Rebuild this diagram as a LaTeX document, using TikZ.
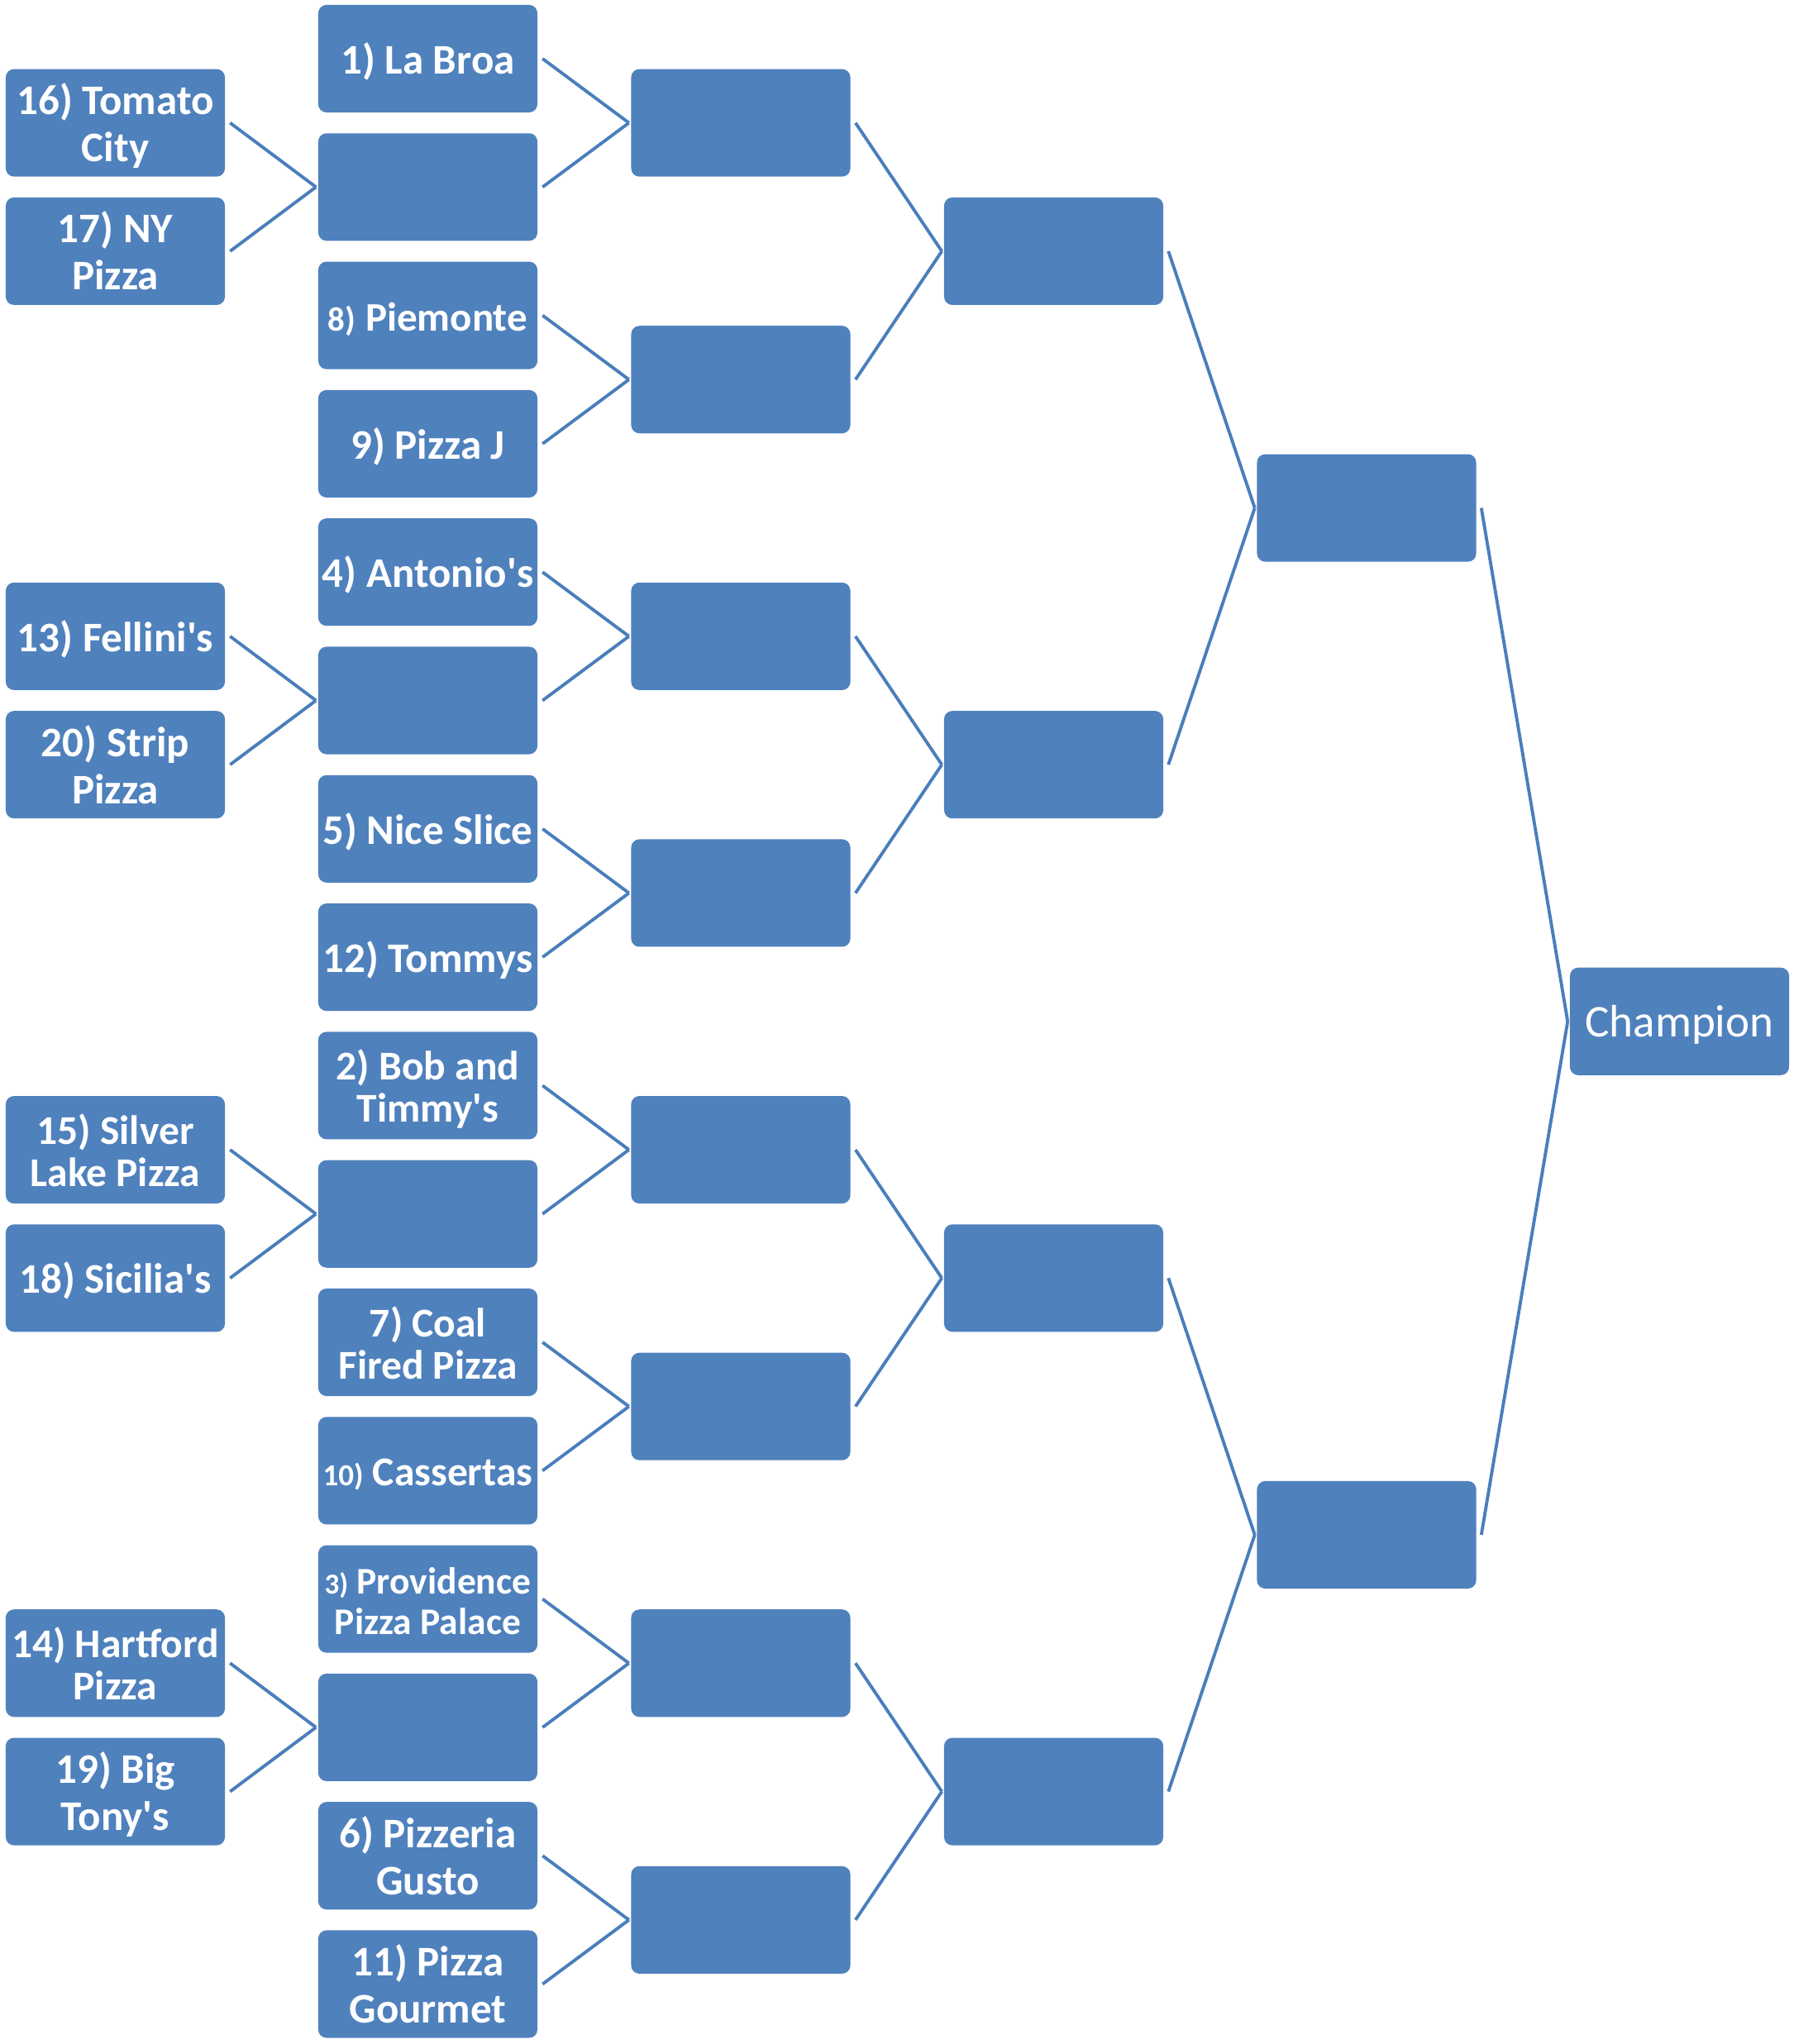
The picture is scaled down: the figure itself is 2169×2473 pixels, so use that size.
\documentclass[tikz,border=0pt]{standalone}
\usepackage{fontspec}
\setmainfont{Carlito}
\definecolor{boxblue}{HTML}{4F81BD}
\definecolor{lineblue}{HTML}{4A7EBB}
\newcommand{\fs}[2]{\fontsize{#1cm}{#2cm}\selectfont}
\newcommand{\hs}{\rule{0pt}{0.55cm}}
\newcommand{\ds}{\rule[-0.18cm]{0pt}{0.18cm}}
\newcommand{\q}{\textquotesingle}
\tikzset{
  team/.style={rectangle, rounded corners=0.1cm, fill=boxblue, minimum width=2.65cm,
    minimum height=1.3cm, inner sep=0pt, text=white, align=center,
    font=\bfseries\fs{0.51}{0.57}},
  compact/.style={font=\bfseries\fs{0.495}{0.51}},
  tight/.style={font=\bfseries\fs{0.455}{0.49}},
  champbox/.style={team, font=\mdseries\fs{0.55}{0.6}},
  link/.style={draw=lineblue, line width=1.1pt},
}
\begin{document}
\begin{tikzpicture}[x=0.01cm, y=-0.01cm]
\useasboundingbox (0,0) rectangle (2169,2473);
% column 0
\node[team] (z1) at (139.5,{71+155.3*0.5}) {\hs 16) Tomato\\City\ds};
\node[team] (z2) at (139.5,{71+155.3*1.5}) {\hs 17) NY\\Pizza\ds};
\node[team] (z3) at (139.5,{71+155.3*4.5}) {\hs 13) Fellini\q s\ds};
\node[team] (z4) at (139.5,{71+155.3*5.5}) {\hs 20) Strip\\Pizza\ds};
\node[team,compact] (z5) at (139.5,{71+155.3*8.5}) {\hs 15) Silver\\Lake Pizza\ds};
\node[team] (z6) at (139.5,{71+155.3*9.5}) {\hs 18) Sicilia\q s\ds};
\node[team,compact] (z7) at (139.5,{71+155.3*12.5}) {\hs 14) Hartford\\Pizza\ds};
\node[team] (z8) at (139.5,{71+155.3*13.5}) {\hs 19) Big\\Tony\q s\ds};
% column 1
\node[team] (a1) at (517.5,{71+155.3*0}) {\hs 1) La Broa\ds};
\node[team] (a2) at (517.5,{71+155.3*1}) {};
\node[team] (a3) at (517.5,{71+155.3*2}) {\hs{\fs{0.41}{0.5}8)} {\fs{0.49}{0.55}Piemonte}\ds};
\node[team] (a4) at (517.5,{71+155.3*3}) {\hs 9) Pizza J\ds};
\node[team] (a5) at (517.5,{71+155.3*4}) {\hs 4) Antonio\q s\ds};
\node[team] (a6) at (517.5,{71+155.3*5}) {};
\node[team] (a7) at (517.5,{71+155.3*6}) {\hs 5) Nice Slice\ds};
\node[team] (a8) at (517.5,{71+155.3*7}) {\hs 12) Tommys\ds};
\node[team,compact] (a9) at (517.5,{71+155.3*8}) {\hs 2) Bob and\\Timmy\q s\ds};
\node[team] (a10) at (517.5,{71+155.3*9}) {};
\node[team,compact] (a11) at (517.5,{71+155.3*10}) {\hs 7) Coal\\Fired Pizza\ds};
\node[team,compact] (a12) at (517.5,{71+155.3*11}) {\hs{\fs{0.37}{0.5}10)} Cassertas\ds};
\node[team,tight] (a13) at (517.5,{71+155.3*12}) {\hs{\fs{0.35}{0.49}3)} Providence\\Pizza Palace\ds};
\node[team] (a14) at (517.5,{71+155.3*13}) {};
\node[team] (a15) at (517.5,{71+155.3*14}) {\hs 6) Pizzeria\\Gusto\ds};
\node[team] (a16) at (517.5,{71+155.3*15}) {\hs 11) Pizza\\Gourmet\ds};
% column 2
\foreach \k/\i in {1/0.5,2/2.5,3/4.5,4/6.5,5/8.5,6/10.5,7/12.5,8/14.5}
  \node[team] (b\k) at (896,{71+155.3*\i}) {};
% column 3
\foreach \k/\i in {1/1.5,2/5.5,3/9.5,4/13.5}
  \node[team] (c\k) at (1274.5,{71+155.3*\i}) {};
% column 4
\node[team] (d1) at (1653,{71+155.3*3.5}) {};
\node[team] (d2) at (1653,{71+155.3*11.5}) {};
% champion
\node[champbox] (champ) at (2031.5,{71+155.3*7.5}) {\hs Champion\ds};
% connectors
\foreach \s/\t in {z1/a2,z2/a2,z3/a6,z4/a6,z5/a10,z6/a10,z7/a14,z8/a14,
  a1/b1,a2/b1,a3/b2,a4/b2,a5/b3,a6/b3,a7/b4,a8/b4,
  a9/b5,a10/b5,a11/b6,a12/b6,a13/b7,a14/b7,a15/b8,a16/b8,
  b1/c1,b2/c1,b3/c2,b4/c2,b5/c3,b6/c3,b7/c4,b8/c4,
  c1/d1,c2/d1,c3/d2,c4/d2,d1/champ,d2/champ}
  \draw[link] ([xshift=0.055cm]\s.east) -- ([xshift=-0.02cm]\t.west);
\end{tikzpicture}
\end{document}
